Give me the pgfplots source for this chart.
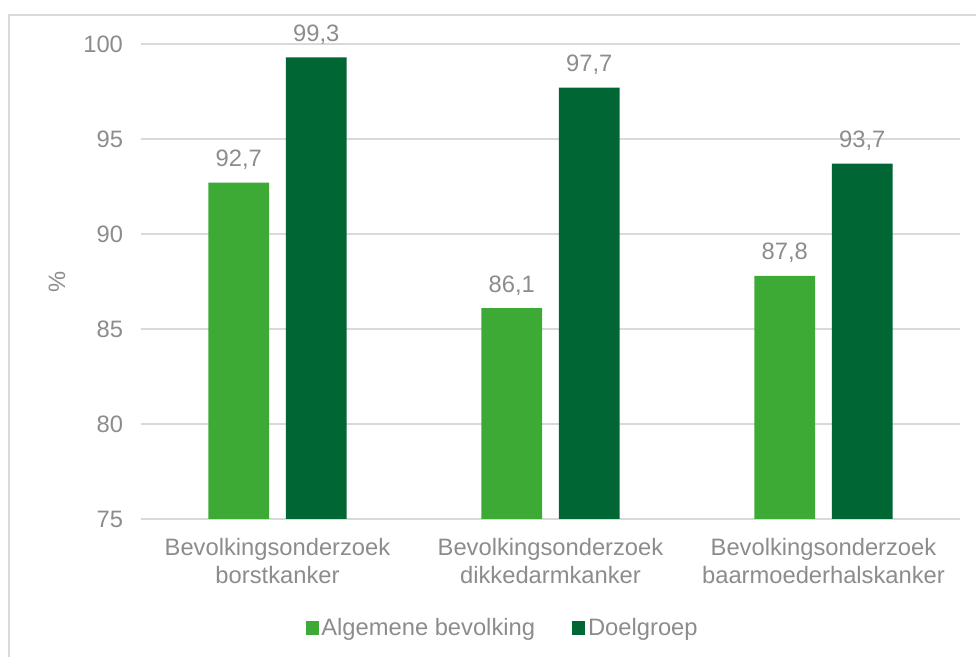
\documentclass[border=0pt]{standalone}
\usepackage{pgfplots}
\pgfplotsset{compat=1.18}
\usepackage{fontspec}
\setmainfont{Liberation Sans}
\definecolor{lgreen}{HTML}{3DAA35}
\definecolor{dgreen}{HTML}{006633}
\definecolor{txt}{HTML}{8C8C8C}
\definecolor{gridc}{HTML}{D9D9D9}
\newcommand{\chartfont}{\fontsize{17.8}{21}\selectfont}
\begin{document}
\begin{tikzpicture}
\path[use as bounding box] (0,0) rectangle (732pt,492.75pt);
\draw[gridc, line width=0.9pt] (6.75pt,0pt) -- (6.75pt,481.5pt) -- (732pt,481.5pt);
\begin{axis}[
  at={(105.75pt,103.5pt)}, anchor=south west,
  scale only axis, width=614.25pt, height=356.25pt,
  font=\chartfont,
  /pgf/number format/assume math mode=true,
  ybar, bar width=0.223,
  xmin=-0.5, xmax=2.5, ymin=75, ymax=100,
  enlargelimits=false, clip=false,
  xtick={0,1,2},
  xticklabels={{Bevolkingsonderzoek\\borstkanker},{Bevolkingsonderzoek\\dikkedarmkanker},{Bevolkingsonderzoek\\baarmoederhalskanker}},
  ytick={75,80,85,90,95,100},
  xticklabel style={align=center, font=\chartfont, text=txt, yshift=-11pt},
  yticklabel style={font=\chartfont, text=txt, xshift=-10pt},
  major tick length=0pt,
  axis line style={draw=none},
  ymajorgrids, grid style={gridc, line width=1.1pt},
  ylabel={\%},
  ylabel style={at={(axis description cs:-0.1026,0.5)}, anchor=center, text=txt, font=\chartfont},
  nodes near coords={\pgfmathprintnumber[fixed,fixed zerofill,precision=1,use comma]{\pgfplotspointmeta}},
  nodes near coords style={anchor=base, inner sep=0pt, yshift=12pt, text=txt, font=\chartfont},
  legend style={at={(0.442,-0.2295)}, anchor=center, draw=none, fill=none, legend columns=2, font=\chartfont, text=txt,
    /tikz/every even column/.append style={column sep=26pt}},
  legend image code/.code={\fill[#1,draw=none] (0pt,-4.9pt) rectangle (9.75pt,4.9pt);},
]
\addplot[fill=lgreen, draw=none, bar shift=-0.142] coordinates {(0,92.7) (1,86.1) (2,87.8)};
\addplot[fill=dgreen, draw=none, bar shift=0.142] coordinates {(0,99.3) (1,97.7) (2,93.7)};
\legend{Algemene bevolking, Doelgroep}
\end{axis}
\end{tikzpicture}
\end{document}
